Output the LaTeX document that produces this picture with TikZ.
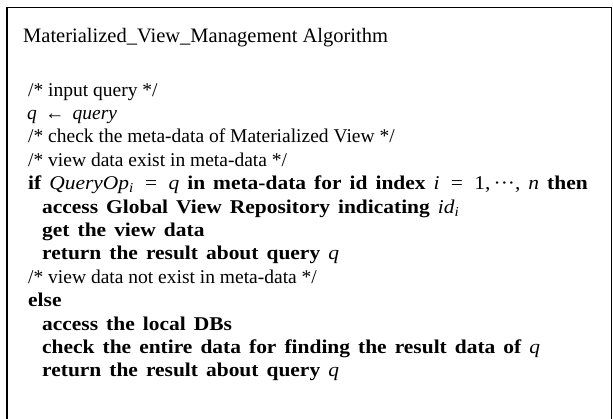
\documentclass[tikz,border=0pt]{standalone}
\usepackage{fontspec}
\setmainfont{Liberation Serif}
% wide setting used for the bold statements of the algorithm
\newfontfamily\stmtfont[FakeStretch=1.1,WordSpace=1.5]{Liberation Serif}
\newcommand{\vr}[1]{\textit{\mdseries #1}}
\newcommand{\eqsign}{{\mdseries\ \,=\ \,}}
\begin{document}
\begin{tikzpicture}[x=1pt,y=-1pt,
  titletext/.style={anchor=base west, inner sep=0pt, font=\fontsize{20.5}{20}\selectfont},
  cmtline/.style={anchor=base west, inner sep=0pt, font=\fontsize{19.5}{20}\selectfont},
  stmtline/.style={anchor=base west, inner sep=0pt, font=\fontsize{19.5}{20}\stmtfont\bfseries},
  frame/.style={line width=1.2pt, draw=black}]
\useasboundingbox (0,0) rectangle (613,418);
% open frame: top, left and right sides
\draw[frame] (7,440) -- (7,7.5) -- (611.5,7.5) -- (611.5,440);

\node[titletext] (title) at (23,42) {Materialized\_View\_Management Algorithm};

\node[cmtline]  (c1) at (28,96)    {/* input query */};
\node[cmtline]  (l1) at (27,119.4) {\textit{q} \,\textleftarrow\, \textit{query}};
\node[cmtline]  (c2) at (28,142.8) {/* check the meta-data of Materialized View */};
\node[cmtline]  (c3) at (28,166.2) {/* view data exist in meta-data */};
\node[stmtline] (l2) at (28,189.6) {if \vr{QueryOp}\textsubscript{\vr{i}}\eqsign\vr{q} in meta-data for id index \vr{i}\eqsign{\mdseries 1,\,\textperiodcentered\textperiodcentered\textperiodcentered,} \vr{n} then};
\node[stmtline] (l3) at (42,213)   {access Global View Repository indicating \vr{id}\textsubscript{\vr{i}}};
\node[stmtline] (l4) at (42,236.4) {get the view data};
\node[stmtline] (l5) at (42,259.8) {return the result about query \vr{q}};
\node[cmtline]  (c4) at (28,283.2) {/* view data not exist in meta-data */};
\node[stmtline] (l6) at (28,306.6) {else};
\node[stmtline] (l7) at (42,330)   {access the local DBs};
\node[stmtline] (l8) at (42,353.4) {check the entire data for finding the result data of \vr{q}};
\node[stmtline] (l9) at (42,376.8) {return the result about query \vr{q}};
\end{tikzpicture}
\end{document}
